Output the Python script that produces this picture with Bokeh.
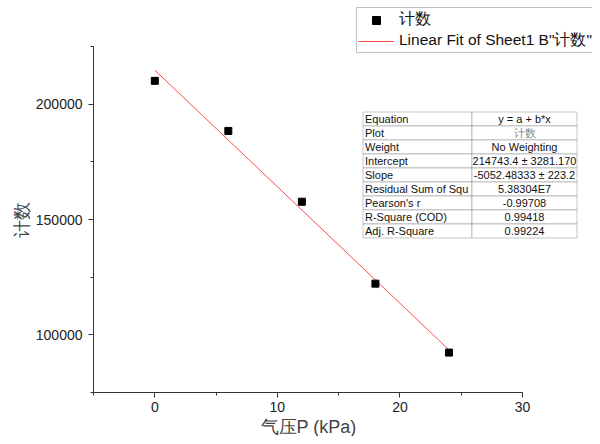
from bokeh.plotting import figure
from bokeh.models import (Legend, LegendItem, Label, BoxAnnotation, FixedTicker,
                          BasicTickFormatter, Range1d, Title)
from bokeh.embed import file_html
from bokeh.resources import INLINE

# ---- data ----
pressure = [0, 6, 12, 18, 24]
counts = [210100, 188400, 157700, 122200, 92300]
fit_intercept = 214743.4
fit_slope = -5052.48333
fit_x = [0, 24]
fit_y = [fit_intercept + fit_slope * x for x in fit_x]

x_bounds = (-5, 30)
y_bounds = (75000, 225000)
x_major = [0, 10, 20, 30]
x_minor = [-5, 5, 15, 25]
y_major = [100000, 150000, 200000]
y_minor = [75000, 125000, 175000, 225000]

x_title = "气压P (kPa)"
y_title = "计数"

table_keys = ["Equation", "Plot", "Weight", "Intercept", "Slope",
              "Residual Sum of Squ", "Pearson's r", "R-Square (COD)", "Adj. R-Square"]
table_vals = ["y = a + b*x", "计数", "No Weighting", "214743.4 ± 3281.170",
              "-5052.48333 ± 223.2", "5.38304E7", "-0.99708", "0.99418", "0.99224"]

FONT = "Liberation Sans"

# ---- layout (pixels) ----
W, H = 592, 436
B_LEFT, B_BOTTOM = 93, 44
AX_W, AX_H = 429, 346          # pixel length of the drawn axes
FRAME_W, FRAME_H = W - B_LEFT, H - B_BOTTOM
x_end = x_bounds[0] + (x_bounds[1] - x_bounds[0]) * FRAME_W / AX_W
y_end = y_bounds[0] + (y_bounds[1] - y_bounds[0]) * FRAME_H / AX_H

p = figure(width=W, height=H, output_backend="svg", toolbar_location=None,
           x_range=Range1d(x_bounds[0], x_end), y_range=Range1d(y_bounds[0], y_end),
           min_border_left=B_LEFT, min_border_right=0, min_border_top=0,
           min_border_bottom=B_BOTTOM)
p.xgrid.visible = False
p.ygrid.visible = False
p.outline_line_color = None
p.background_fill_color = "white"
p.border_fill_color = "white"

for ax in (p.xaxis[0], p.yaxis[0]):
    ax.axis_line_color = "#333333"
    ax.major_tick_line_color = "#333333"
    ax.minor_tick_line_color = "#333333"
    ax.major_tick_out = 5
    ax.major_tick_in = 0
    ax.minor_tick_out = 3
    ax.minor_tick_in = 0
    ax.major_label_text_font = FONT
    ax.major_label_text_font_size = "14px"
    ax.major_label_text_color = "#222222"

p.xaxis[0].bounds = x_bounds
p.yaxis[0].bounds = y_bounds
p.xaxis[0].ticker = FixedTicker(ticks=x_major, minor_ticks=x_minor)
p.yaxis[0].ticker = FixedTicker(ticks=y_major, minor_ticks=y_minor)
p.yaxis[0].formatter = BasicTickFormatter(use_scientific=False)
p.xaxis[0].major_label_standoff = 4
p.yaxis[0].major_label_standoff = 6

# axis titles centred on the drawn axes (not on the wider frame)
p.add_layout(Title(text=x_title, align="left", offset=167, standoff=0,
                   text_font=FONT, text_font_size="18px", text_font_style="normal",
                   text_color="#444444"), "below")
p.add_layout(Title(text=y_title, align="left", offset=155, standoff=2,
                   text_font=FONT, text_font_size="18px", text_font_style="normal",
                   text_color="#444444"), "left")

r_fit = p.line(fit_x, fit_y, line_color="red", line_width=1, line_alpha=0.7)
r_pts = p.scatter(pressure, counts, marker="square", size=7,
                  fill_color="black", line_color="black")

legend = Legend(items=[LegendItem(label="计数", renderers=[r_pts]),
                       LegendItem(label='Linear Fit of Sheet1 B"计数"', renderers=[r_fit])],
                location=(263, 339), orientation="vertical",
                label_text_font=FONT, label_text_font_size="15.5px",
                label_text_color="#111111",
                glyph_width=36, glyph_height=20, label_height=20,
                label_standoff=5, spacing=0, padding=1, margin=0,
                border_line_color="#888888", border_line_width=1,
                background_fill_color="white", background_fill_alpha=1)
p.add_layout(legend)

# ---- fit results table (screen units relative to frame) ----
tl, tm, tr = 269.5, 378.5, 483.5
row_h = 14
top = 280.5
for i, (k, v) in enumerate(zip(table_keys, table_vals)):
    t = top - i * row_h
    b = t - row_h
    for (l, r) in ((tl, tm), (tm, tr)):
        p.add_layout(BoxAnnotation(left=l, right=r, top=t, bottom=b,
                                   left_units="screen", right_units="screen",
                                   top_units="screen", bottom_units="screen",
                                   fill_color="white", fill_alpha=1,
                                   line_color="#444444", line_width=1,
                                   editable=False))
    yc = t - row_h / 2
    p.add_layout(Label(x=tl + 2, y=yc, x_units="screen", y_units="screen", text=k,
                       text_font=FONT, text_font_size="11px", text_color="#111111",
                       text_baseline="middle", text_align="left"))
    p.add_layout(Label(x=(tm + tr) / 2, y=yc, x_units="screen", y_units="screen", text=v,
                       text_font=FONT, text_font_size="11px",
                       text_color="#888888" if k == "Plot" else "#111111",
                       text_baseline="middle", text_align="center"))

open("out.html", "w").write(file_html(p, INLINE))
